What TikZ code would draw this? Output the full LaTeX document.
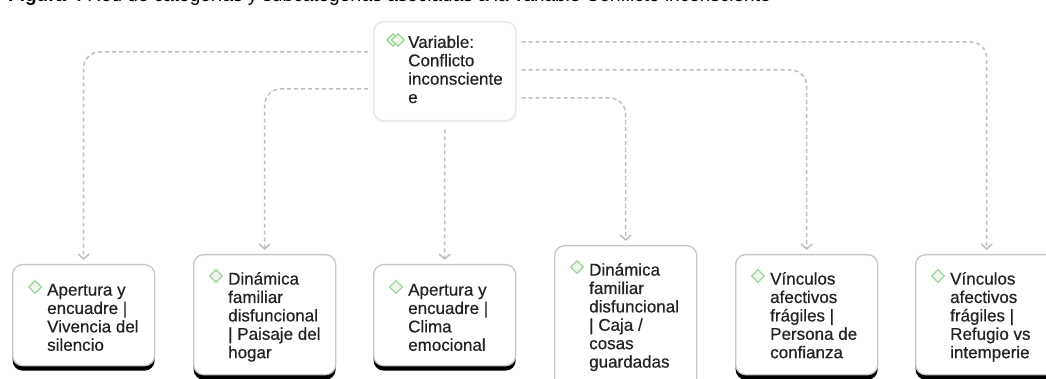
\documentclass[tikz,border=0pt]{standalone}
\usepackage{fontspec}
\setmainfont{Liberation Sans}
\newfontfamily\catfont{Liberation Sans}[FakeBold=0.5]
\usepackage{tikz}
\usetikzlibrary{positioning}
\usetikzlibrary{calc}
\usetikzlibrary{shapes}
\usetikzlibrary{shadows}
\usetikzlibrary{arrows.meta}
\definecolor{lineGray}{HTML}{BEBEBE}
\definecolor{boxGray}{HTML}{C6C6C6}
\definecolor{diamGreen}{HTML}{9CD49C}
\definecolor{diamFill}{HTML}{EDF7ED}
\definecolor{textDark}{HTML}{222222}
\tikzset{myboxCat/.style={draw=boxGray, line width=1.3pt, fill=white, rounded corners=10pt, anchor=north west, inner sep=0pt, minimum width=142pt, drop shadow={shadow xshift=0pt, shadow yshift=-5pt, fill=black, opacity=1}}}
\tikzset{myboxRoot/.style={draw=black!9, line width=1.5pt, fill=white, rounded corners=10pt, anchor=north west, inner sep=0pt, drop shadow={shadow xshift=0pt, shadow yshift=-1.5pt, fill=black!5, opacity=1}}}
\tikzset{mytext/.style={anchor=north west, inner sep=0pt, align=left, text=textDark, font=\catfont\fontsize{17}{18.4}\selectfont}}
\tikzset{mydiam/.style={diamond, draw=diamGreen, fill=diamFill, line width=1.2pt, minimum width=13pt, minimum height=13pt, inner sep=0pt}}
\tikzset{myarrow/.style={draw=lineGray, line width=1.5pt, dash pattern=on 4pt off 3pt, rounded corners=16pt, -{Straight Barb[length=5pt,width=11pt]}}}

\begin{document}
\begin{tikzpicture}[x=1pt, y=-1pt]

\useasboundingbox (0,0) rectangle (1046,379);

% caption, cut off at the top
\begin{scope}
\clip (0,0) rectangle (1046,379);
\node[anchor=base west, inner sep=0pt, font=\fontsize{19}{22}\selectfont] (figCap) at (8,2) {\textbf{Figura 4} Red de categorías y subcategorías asociadas a la variable Conflicto inconsciente};
\end{scope}

% variable
\node[myboxRoot, minimum width=142pt, minimum height=99pt] (root) at (373,21) {};
\node[mydiam] (rootD1) at (393,40) {};
\node[mydiam] (rootD2) at (398,40) {};
\node[mytext] (rootTxt) at ($(root.north west)+(35,13.8)$) {\strut Variable:\\Conflicto\\inconsciente\\e};

% categorias
\node[myboxCat, minimum height=101pt] (b1) at (12,264) {};
\node[mydiam] (d1) at ($(b1.north west)+(23,23)$) {};
\node[mytext] (t1) at ($(b1.north west)+(35,18.5)$) {\strut Apertura y\\encuadre |\\Vivencia del\\silencio};

\node[myboxCat, minimum height=120pt] (b2) at (193,254) {};
\node[mydiam] (d2) at ($(b2.north west)+(23,22)$) {};
\node[mytext] (t2) at ($(b2.north west)+(35,17.5)$) {\strut Dinámica\\familiar\\disfuncional\\| Paisaje del\\hogar};

\node[myboxCat, minimum height=101pt] (b3) at (373,264) {};
\node[mydiam] (d3) at ($(b3.north west)+(23,23)$) {};
\node[mytext] (t3) at ($(b3.north west)+(35,18.5)$) {\strut Apertura y\\encuadre |\\Clima\\emocional};

\node[myboxCat, minimum height=150pt] (b4) at (554,245) {};
\node[mydiam] (d4) at ($(b4.north west)+(23,22)$) {};
\node[mytext] (t4) at ($(b4.north west)+(35,17.5)$) {\strut Dinámica\\familiar\\disfuncional\\| Caja /\\cosas\\guardadas};

\node[myboxCat, minimum height=120pt] (b5) at (735,254) {};
\node[mydiam] (d5) at ($(b5.north west)+(23,22)$) {};
\node[mytext] (t5) at ($(b5.north west)+(35,17.5)$) {\strut Vínculos\\afectivos\\frágiles |\\Persona de\\confianza};

\node[myboxCat, minimum height=120pt] (b6) at (915,254) {};
\node[mydiam] (d6) at ($(b6.north west)+(23,22)$) {};
\node[mytext] (t6) at ($(b6.north west)+(35,17.5)$) {\strut Vínculos\\afectivos\\frágiles |\\Refugio vs\\intemperie};

% conectores
\draw[myarrow] ($(root.north west)+(-5,31)$) -| ([yshift=4pt]b1.north);
\draw[myarrow] ($(root.north west)+(-5,68)$) -| ([yshift=4pt]b2.north);
\draw[myarrow] ($(root.south)+(0,8)$) -- ([yshift=4pt]b3.north);
\draw[myarrow] ($(root.north east)+(5,77)$) -| ([yshift=4pt]b4.north);
\draw[myarrow] ($(root.north east)+(5,49)$) -| ([yshift=4pt]b5.north);
\draw[myarrow] ($(root.north east)+(5,21)$) -| ([yshift=4pt]b6.north);

\end{tikzpicture}
\end{document}
